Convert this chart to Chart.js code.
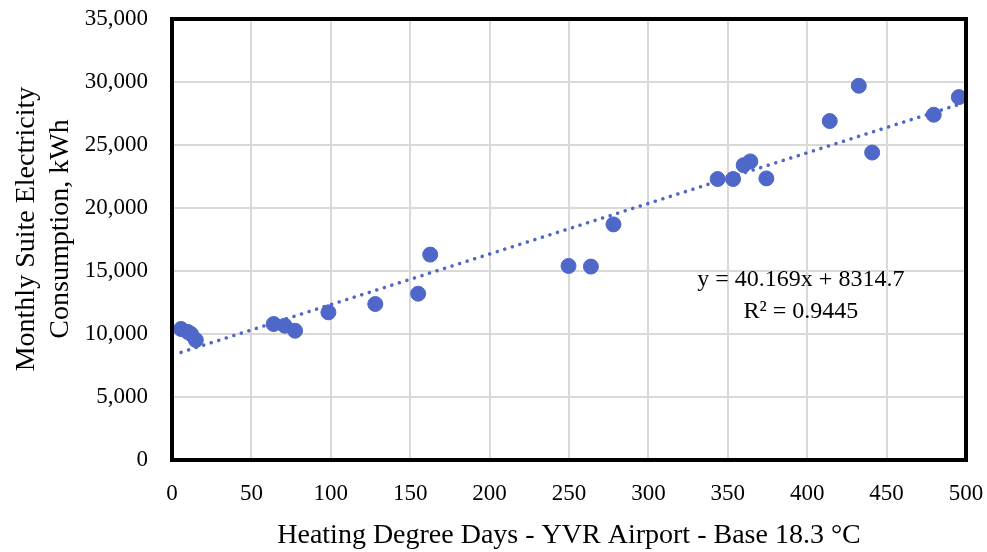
<!DOCTYPE html>
<html lang="en">
<head>
  <meta charset="UTF-8" />
  <title>Suite Electricity vs HDD</title>
  <script src="https://cdn.jsdelivr.net/npm/chart.js"></script>
  <style>
    body { margin: 0; background: #fff; }
    #wrap { width: 987px; height: 552px; }
  </style>
</head>
<body>
  <div id="wrap"><canvas id="grafico"></canvas></div>

  <script>
    // Heating degree days (x) and monthly suite electricity, kWh (y)
    const hdd = [5.7, 10, 12, 15, 64, 71, 77.5, 98.5, 128, 155, 162.6, 249.7, 263.8, 278,
                 343.6, 353.3, 360, 364.2, 374.3, 414.2, 432.5, 440.9, 479.7, 495.5];
    const kwh = [10400, 10160, 10000, 9520, 10790, 10660, 10260, 11720, 12380, 13200, 16300, 15400, 15350, 18700,
                 22300, 22300, 23400, 23700, 22350, 26900, 29700, 24400, 27400, 28800];

    // linear trendline as printed on the chart
    const slope = 40.169;
    const intercept = 8314.7;
    const eqLabel = 'y = 40.169x + 8314.7';
    const r2Label = 'R² = 0.9445';

    const blue = '#4e67c8';
    const fonte = '"Liberation Serif", "DejaVu Serif", serif';

    const pontos = hdd.map((x, i) => ({ x, y: kwh[i] }));
    const xMin = Math.min(...hdd), xMax = Math.max(...hdd);
    const tendencia = [xMin, xMax].map(x => ({ x, y: slope * x + intercept }));

    const moldura = {
      id: 'moldura',
      afterDatasetsDraw(chart) {
        const { ctx, chartArea: a, scales } = chart;
        ctx.save();
        ctx.strokeStyle = '#000';
        ctx.lineWidth = 4;
        ctx.strokeRect(a.left, a.top, a.right - a.left, a.bottom - a.top);
        ctx.fillStyle = '#000';
        ctx.font = '24px ' + fonte;
        ctx.textAlign = 'center';
        ctx.textBaseline = 'middle';
        const cx = scales.x.getPixelForValue(396);
        ctx.fillText(eqLabel, cx, scales.y.getPixelForValue(14300));
        ctx.fillText(r2Label, cx, scales.y.getPixelForValue(11800));
        ctx.restore();
      }
    };

    new Chart(document.getElementById('grafico'), {
      type: 'scatter',
      data: {
        datasets: [
          {
            type: 'line',
            data: tendencia,
            borderColor: blue,
            borderWidth: 3.5,
            borderDash: [0.1, 7.8],
            borderCapStyle: 'round',
            pointRadius: 0,
            fill: false,
            order: 1
          },
          {
            data: pontos,
            backgroundColor: blue,
            borderColor: blue,
            pointRadius: 7.5,
            pointHoverRadius: 7.5,
            order: 0
          }
        ]
      },
      options: {
        responsive: true,
        maintainAspectRatio: false,
        animation: false,
        layout: { padding: { top: 19, right: 21, left: 0, bottom: 0 } },
        plugins: { legend: { display: false }, tooltip: { enabled: false } },
        scales: {
          x: {
            type: 'linear',
            min: 0, max: 500,
            ticks: { stepSize: 50, color: '#000', font: { family: fonte, size: 23 }, padding: 20 },
            grid: { color: '#d9d9d9', lineWidth: 2, drawTicks: false },
            border: { display: false },
            title: { display: true, text: 'Heating Degree Days - YVR Airport - Base 18.3 °C', color: '#000',
                     font: { family: fonte, size: 28 }, padding: { top: 8, bottom: 0 } },
            afterFit: s => { s.height = 92; s.paddingLeft = 0; s.paddingRight = 0; }
          },
          y: {
            min: 0, max: 35000,
            ticks: { stepSize: 5000, color: '#000', font: { family: fonte, size: 23 }, padding: 24,
                     callback: v => v.toLocaleString('en-US') },
            grid: { color: '#d9d9d9', lineWidth: 2, drawTicks: false },
            border: { display: false },
            title: { display: true, text: ['\u00a0\u00a0\u00a0Monthly Suite Electricity', '\u00a0\u00a0\u00a0Consumption, kWh'], color: '#000',
                     font: { family: fonte, size: 28, lineHeight: 1.2 }, padding: { top: 10 } },
            afterFit: s => { s.width = 172; s.paddingTop = 0; s.paddingBottom = 0; }
          }
        }
      },
      plugins: [moldura]
    });
  </script>
</body>
</html>
